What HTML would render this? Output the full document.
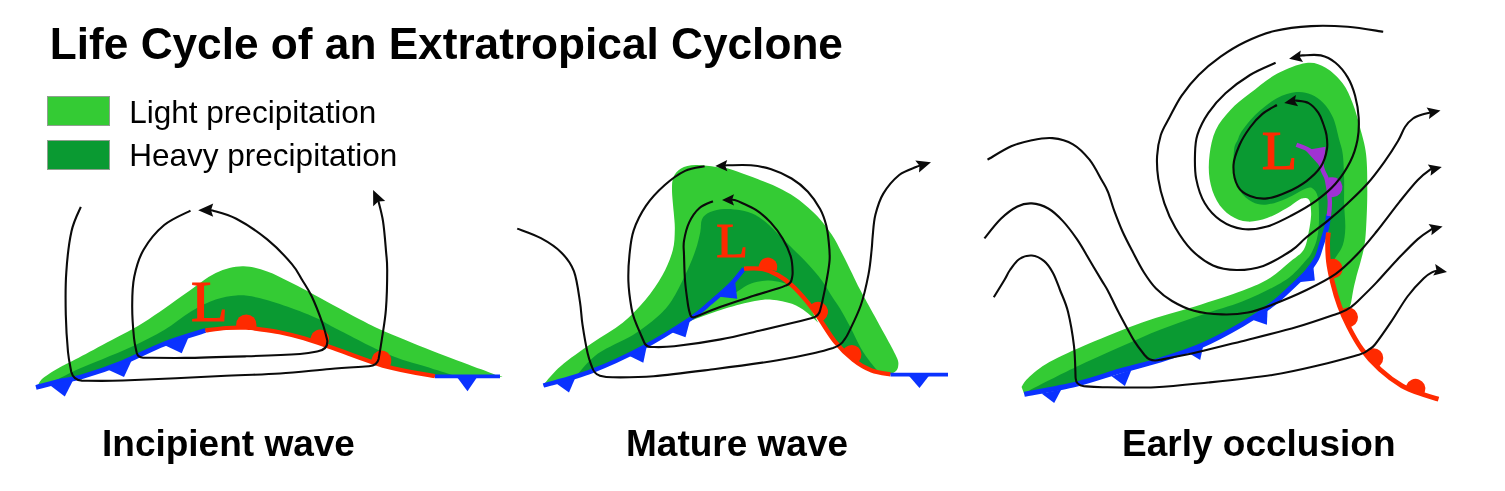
<!DOCTYPE html>
<html><head><meta charset="utf-8"><title>Life Cycle of an Extratropical Cyclone</title>
<style>
html,body{margin:0;padding:0;background:#fff}
body{width:1505px;height:491px;overflow:hidden;position:relative;font-family:"Liberation Sans",sans-serif;color:#000}
h1{position:absolute;left:49.8px;top:18.5px;margin:0;font-size:44.2px;line-height:50px;font-weight:bold;white-space:nowrap;letter-spacing:0}
.leg{position:absolute;left:129.3px;font-size:31.5px;line-height:36px;white-space:nowrap;color:#000}
.box{position:absolute;left:47.4px;width:61px;height:28.6px;border:1px solid #8fa08f}
.lab{position:absolute;top:423px;font-size:37px;line-height:42px;font-weight:bold;white-space:nowrap}
svg{position:absolute;left:0;top:0}
</style></head><body>
<h1>Life Cycle of an Extratropical Cyclone</h1>
<div class="box" style="top:95.6px;background:#34cb34"></div><div class="leg" style="top:93.5px">Light precipitation</div>
<div class="box" style="top:139.6px;background:#0a9a32"></div><div class="leg" style="top:137.3px">Heavy precipitation</div>
<svg width="1505" height="491" viewBox="0 0 1505 491">
<g id="p1">
<path d="M38.0 385.0 C38.6 384.1 39.8 381.3 41.5 379.5 C43.2 377.7 45.4 376.2 48.5 374.2 C51.6 372.1 56.0 369.4 60.0 367.2 C64.0 365.0 65.7 364.5 72.8 360.8 C79.9 357.1 90.6 351.4 102.4 345.0 C114.2 338.6 129.9 331.0 143.6 322.5 C157.3 314.0 172.8 302.2 184.8 294.0 C196.8 285.8 206.1 277.6 215.7 273.0 C225.3 268.4 233.8 266.5 242.4 266.2 C251.0 265.9 259.6 268.9 267.2 271.4 C274.8 273.9 280.9 277.6 287.8 281.0 C294.7 284.4 300.9 287.5 308.4 291.5 C315.9 295.5 324.4 300.3 333.0 305.0 C341.6 309.7 351.2 315.0 360.0 319.5 C368.8 324.0 372.8 326.4 385.9 332.0 C399.0 337.6 423.0 347.2 438.9 353.4 C454.8 359.6 471.3 365.5 481.2 369.3 C491.1 373.1 495.2 374.9 498.0 376.0 C498.0 376.2 508.5 376.9 498.0 377.0 C487.5 377.1 453.6 378.3 434.9 376.5 C416.2 374.7 402.9 371.1 385.9 366.4 C368.9 361.6 346.7 352.7 333.0 348.0 C319.3 343.3 312.8 340.9 303.9 338.3 C295.0 335.7 287.5 333.8 279.4 332.2 C271.2 330.6 260.6 329.4 255.0 328.6 C249.4 327.8 250.8 327.7 246.0 327.6 C241.2 327.5 232.8 327.5 226.0 328.0 C219.2 328.5 215.7 327.9 205.4 330.5 C195.1 333.1 177.9 338.6 164.2 343.9 C150.5 349.2 136.7 356.9 123.0 362.4 C109.3 367.9 92.1 373.7 81.8 376.8 C71.5 379.9 68.5 379.4 61.2 380.9 C53.9 382.4 41.9 385.1 38.0 386.0 C38.0 385.7 38.0 384.3 38.0 384.0 Z" fill="#34cb34"/>
<path d="M50.0 383.5 C54.3 381.3 66.9 374.4 75.6 370.3 C84.3 366.2 92.8 363.2 102.4 359.2 C112.0 355.1 123.0 350.9 133.3 346.0 C143.6 341.1 154.6 335.8 164.2 330.0 C173.8 324.2 182.4 316.6 191.0 311.5 C199.6 306.4 208.1 302.3 215.7 299.6 C223.2 296.9 229.4 295.8 236.3 295.4 C243.2 295.0 248.3 295.6 256.9 297.5 C265.5 299.4 277.5 303.2 287.8 306.8 C298.1 310.4 311.2 315.7 318.7 319.1 C326.2 322.5 321.8 321.3 333.0 327.0 C344.2 332.7 370.5 346.8 385.9 353.4 C401.3 360.0 414.6 363.0 425.6 366.6 C436.6 370.2 447.6 373.6 452.0 375.0 C452.0 375.2 454.9 376.2 452.0 376.5 C449.1 376.8 445.9 378.2 434.9 376.5 C423.9 374.8 402.9 371.1 385.9 366.4 C368.9 361.6 346.7 352.7 333.0 348.0 C319.3 343.3 312.8 340.9 303.9 338.3 C295.0 335.7 287.5 333.8 279.4 332.2 C271.2 330.6 260.6 329.4 255.0 328.6 C249.4 327.8 250.8 327.7 246.0 327.6 C241.2 327.5 232.8 327.5 226.0 328.0 C219.2 328.5 215.7 327.9 205.4 330.5 C195.1 333.1 177.9 338.6 164.2 343.9 C150.5 349.2 136.7 356.9 123.0 362.4 C109.3 367.9 94.0 373.3 81.8 376.8 C69.6 380.3 55.3 382.4 50.0 383.5 Z" fill="#0a9a32"/>
<path d="M36.0 387.5 C40.2 386.4 53.6 382.7 61.2 380.9 C68.8 379.1 71.5 379.9 81.8 376.8 C92.1 373.7 109.3 367.9 123.0 362.4 C136.7 356.9 150.5 349.2 164.2 343.9 C177.9 338.6 198.5 332.7 205.4 330.5 " fill="none" stroke="#0a32ff" stroke-width="4.8" stroke-linecap="butt" stroke-linejoin="round" />
<path d="M205.4 330.5 C208.8 330.1 219.2 328.5 226.0 328.0 C232.8 327.5 241.2 327.5 246.0 327.6 C250.8 327.7 249.4 327.8 255.0 328.6 C260.6 329.4 271.2 330.6 279.4 332.2 C287.5 333.8 295.0 335.7 303.9 338.3 C312.8 340.9 319.3 343.3 333.0 348.0 C346.7 352.7 368.9 361.7 385.9 366.4 C402.9 371.1 426.7 374.6 434.9 376.2 " fill="none" stroke="#ff2a00" stroke-width="4.2" stroke-linecap="butt" stroke-linejoin="round" />
<path d="M434.9 376.4 C445.8 376.4 489.1 376.4 500.0 376.4 " fill="none" stroke="#0a32ff" stroke-width="3.8" stroke-linecap="butt" stroke-linejoin="round" />
<path d="M49.0 384.5 L74.0 378.5 L64.8 396.5Z" fill="#0a32ff"/>
<path d="M106.5 369.0 L132.3 359.0 L124.0 377.0Z" fill="#0a32ff"/>
<path d="M164.2 345.0 L188.9 336.5 L181.7 353.3Z" fill="#0a32ff"/>
<path d="M456.9 377.0 L477.2 377.0 L467.5 391.3Z" fill="#0a32ff"/>
<path d="M256.4 327.5 L256.4 324.5 A10.1 10.1 0 0 0 236.2 324.5 L236.2 327.5Z" fill="#ff2a00"/>
<path d="M327.2 346.0 L328.7 341.7 A9.2 9.2 0 0 0 311.3 335.7 L309.8 340.0Z" fill="#ff2a00"/>
<path d="M389.7 367.4 L391.1 363.0 A9.9 9.9 0 0 0 372.3 356.9 L370.9 361.2Z" fill="#ff2a00"/>
<text transform="translate(191,321) scale(1.05,1)" x="0" y="0" font-family="'Liberation Serif',serif" font-size="57.5" fill="#ff2a00" stroke="#ff2a00" stroke-width="1.1">L</text>
<path d="M80.8 206.9 C79.2 210.9 73.9 220.3 71.5 231.2 C69.1 242.1 67.2 258.4 66.3 272.4 C65.3 286.4 65.5 301.7 65.8 315.0 C66.1 328.3 67.1 342.5 68.0 352.0 C68.9 361.5 70.8 368.7 71.3 372.0 Q73.5 380.2 82.0 380.6 C88.8 380.6 99.0 381.3 123.0 380.5 C147.0 379.7 199.8 377.0 226.0 375.8 C252.2 374.6 262.7 374.6 280.0 373.5 C297.3 372.4 315.2 370.2 330.0 369.0 C344.8 367.8 362.5 366.8 369.0 366.3 Q377.3 365.5 378.6 359.0 C379.2 355.6 380.7 347.0 381.9 338.8 C383.1 330.6 385.0 321.2 385.9 309.7 C386.8 298.2 387.2 279.6 387.2 270.0 C387.2 260.4 386.8 260.2 386.1 252.1 C385.4 244.0 384.4 230.0 383.0 221.2 C381.6 212.4 378.8 203.1 378.0 199.5 " fill="none" stroke="#0b0b0b" stroke-width="2.1" stroke-linecap="butt" stroke-linejoin="round" />
<path d="M373.1 189.9 L385.2 200.9 L378.3 201.6 L373.2 206.3Z" fill="#0b0b0b"/>
<path d="M190.5 210.6 C186.1 213.0 172.0 218.5 164.2 225.0 C156.4 231.5 148.6 241.1 143.6 249.7 C138.6 258.3 136.2 267.3 134.3 276.5 C132.4 285.7 132.2 294.8 132.2 305.0 C132.1 315.2 133.2 330.0 134.0 338.0 C134.8 346.0 136.3 350.5 136.8 353.0 Q138.0 357.5 143.0 357.7 C150.0 357.7 167.5 358.1 184.8 357.9 C202.1 357.7 227.4 356.9 246.6 356.3 C265.8 355.7 288.1 354.8 300.0 354.0 C311.9 353.2 315.0 351.8 318.0 351.3 Q328.0 349.5 327.3 340.5 C326.5 337.6 325.0 330.3 322.4 323.0 C319.8 315.7 315.2 303.7 311.8 296.5 C308.4 289.3 305.5 285.4 302.2 280.0 C298.9 274.6 297.7 270.9 291.9 264.1 C286.1 257.3 276.5 247.0 267.2 239.4 C257.9 231.8 245.4 223.6 236.3 218.8 C227.2 214.0 217.3 212.0 212.6 210.6 C207.9 209.2 208.8 210.4 208.0 210.3 " fill="none" stroke="#0b0b0b" stroke-width="2.1" stroke-linecap="butt" stroke-linejoin="round" />
<path d="M198.2 210.2 L213.2 203.6 L211.0 210.2 L213.2 216.8Z" fill="#0b0b0b"/>
</g>
<g id="p2">
<path d="M544.0 384.0 C546.8 381.0 552.9 372.7 560.9 365.9 C568.9 359.1 581.5 350.5 591.8 343.3 C602.1 336.1 613.8 329.9 622.7 322.7 C631.6 315.5 638.7 307.9 645.3 300.0 C651.9 292.1 657.8 283.5 662.4 275.3 C667.0 267.1 670.6 258.1 672.7 250.6 C674.8 243.0 674.6 236.4 674.8 230.0 C675.0 223.6 674.2 218.8 673.7 212.1 C673.2 205.4 672.0 195.8 672.0 190.0 C672.0 184.2 672.0 180.6 673.5 177.0 C675.0 173.4 677.4 170.5 681.0 168.5 C684.6 166.5 689.6 165.3 695.4 165.1 C701.2 164.8 710.1 166.3 716.0 167.0 C721.9 167.7 723.0 167.1 730.5 169.3 C738.0 171.6 752.5 177.1 761.1 180.5 C769.7 183.9 775.7 186.2 782.0 189.5 C788.3 192.8 793.2 195.5 799.1 200.0 C805.0 204.5 812.0 210.5 817.4 216.3 C822.8 222.1 827.6 228.5 831.7 234.6 C835.8 240.7 838.5 246.6 841.9 253.0 C845.3 259.4 849.0 267.2 852.0 273.3 C855.0 279.4 857.2 284.3 860.0 289.6 C862.8 294.9 864.0 296.9 868.5 305.0 C873.0 313.1 882.1 329.7 886.9 338.5 C891.6 347.3 895.1 353.4 897.0 358.0 C898.9 362.6 898.4 363.8 898.2 366.0 C898.0 368.2 897.3 369.6 896.0 371.0 C894.7 372.4 891.4 373.9 890.5 374.5 C887.4 373.9 877.8 373.0 871.6 370.6 C865.4 368.2 859.4 364.7 853.3 359.9 C847.2 355.1 840.8 348.8 835.0 341.6 C829.2 334.5 823.2 323.8 818.4 317.0 C813.6 310.2 810.6 306.0 806.2 300.7 C801.8 295.4 796.8 289.7 792.0 285.4 C787.2 281.1 782.8 277.8 777.7 275.0 C772.6 272.2 767.0 269.9 761.4 268.8 C755.8 267.7 746.9 268.6 744.0 268.6 C741.8 271.2 736.5 278.7 730.9 284.4 C725.3 290.1 717.3 296.9 710.5 302.7 C703.7 308.5 701.4 311.6 690.2 319.0 C679.0 326.4 659.7 338.7 643.3 347.4 C626.9 356.1 608.4 364.8 591.8 371.1 C575.1 377.5 551.5 383.1 543.4 385.5 Z" fill="#34cb34"/>
<path d="M691.2 320.5 C696.1 318.7 710.7 313.0 720.7 309.9 C730.7 306.8 742.7 303.4 751.2 301.7 C759.7 300.0 764.8 299.3 771.6 299.7 C778.4 300.1 786.2 301.8 792.0 303.8 C797.8 305.8 801.9 308.8 806.2 311.9 C810.5 315.0 816.0 320.7 818.0 322.5 C816.0 318.9 810.5 306.9 806.2 300.7 C801.9 294.5 796.8 289.7 792.0 285.4 C787.2 281.1 782.8 277.8 777.7 275.0 C772.6 272.2 767.0 269.9 761.4 268.8 C755.8 267.7 746.9 268.6 744.0 268.6 C741.8 271.2 736.5 278.7 730.9 284.4 C725.3 290.1 717.3 296.9 710.5 302.7 C703.7 308.5 693.4 316.0 690.2 319.0 C687.0 322.0 691.0 320.2 691.2 320.5 Z" fill="#34cb34"/>
<path d="M577.0 375.0 C580.5 371.4 588.7 360.3 598.0 353.6 C607.3 346.9 623.0 341.2 633.0 335.0 C643.0 328.8 651.2 322.3 657.7 316.5 C664.2 310.7 667.5 306.9 672.1 300.0 C676.7 293.1 681.2 283.5 685.1 275.3 C689.0 267.1 692.9 257.8 695.4 250.6 C697.9 243.4 699.2 237.2 700.3 232.0 C701.4 226.8 700.4 222.5 702.0 219.2 C703.6 215.9 706.5 213.8 710.2 212.1 C713.9 210.4 719.3 209.3 724.4 209.0 C729.5 208.7 735.6 209.3 740.7 210.3 C745.8 211.3 750.4 212.5 755.0 214.8 C759.6 217.2 764.2 220.8 768.5 224.4 C772.8 228.1 776.7 232.6 780.8 236.7 C784.9 240.8 788.6 244.5 793.0 248.9 C797.4 253.3 802.5 258.0 807.2 263.2 C812.0 268.4 817.4 274.4 821.5 280.0 C825.6 285.6 828.9 291.8 832.0 296.5 C835.1 301.2 837.0 303.5 840.0 308.5 C843.0 313.5 846.3 319.4 850.0 326.5 C853.7 333.6 858.3 343.9 862.4 350.8 C866.5 357.7 871.8 363.9 874.7 367.6 C877.6 371.3 879.1 372.1 880.0 373.0 C875.5 370.8 860.8 365.1 853.3 359.9 C845.8 354.7 840.8 348.8 835.0 341.6 C829.2 334.5 823.2 323.8 818.4 317.0 C813.6 310.2 810.6 306.0 806.2 300.7 C801.8 295.4 796.8 289.7 792.0 285.4 C787.2 281.1 782.8 277.8 777.7 275.0 C772.6 272.2 767.0 269.9 761.4 268.8 C755.8 267.7 746.9 268.6 744.0 268.6 C741.8 271.2 736.5 278.7 730.9 284.4 C725.3 290.1 717.3 296.9 710.5 302.7 C703.7 308.5 701.4 311.6 690.2 319.0 C679.0 326.4 659.7 338.7 643.3 347.4 C626.9 356.1 602.8 366.5 591.8 371.1 C580.8 375.7 579.5 374.4 577.0 375.0 Z" fill="#0a9a32"/>
<path d="M744.0 268.6 C746.9 268.6 755.8 267.7 761.4 268.8 C767.0 269.9 772.5 272.1 777.7 275.0 C782.9 277.9 790.0 284.2 792.5 286.0 C790.7 285.4 786.0 283.3 781.8 282.4 C777.6 281.5 772.6 280.2 767.5 280.4 C762.4 280.6 756.1 281.6 751.2 283.4 C746.3 285.2 741.7 288.6 738.0 291.0 C734.3 293.4 730.5 296.8 729.0 298.0 C729.3 295.7 728.4 289.3 730.9 284.4 C733.4 279.5 741.8 271.2 744.0 268.6 Z" fill="#0a9a32"/>
<path d="M543.4 385.5 C551.5 383.1 575.1 377.5 591.8 371.1 C608.4 364.8 626.9 356.1 643.3 347.4 C659.7 338.7 679.0 326.4 690.2 319.0 C701.4 311.6 703.7 308.5 710.5 302.7 C717.3 296.9 725.3 290.1 730.9 284.4 C736.5 278.7 741.8 271.2 744.0 268.6 " fill="none" stroke="#0a32ff" stroke-width="4.4" stroke-linecap="butt" stroke-linejoin="round" />
<path d="M744.0 268.6 C746.9 268.6 755.8 267.7 761.4 268.8 C767.0 269.9 772.6 272.2 777.7 275.0 C782.8 277.8 787.2 281.1 792.0 285.4 C796.8 289.7 801.8 295.4 806.2 300.7 C810.6 306.0 813.6 310.2 818.4 317.0 C823.2 323.8 829.2 334.5 835.0 341.6 C840.8 348.8 847.2 355.1 853.3 359.9 C859.4 364.7 865.4 368.2 871.6 370.6 C877.8 373.0 887.4 373.9 890.5 374.5 " fill="none" stroke="#ff2a00" stroke-width="4.3" stroke-linecap="butt" stroke-linejoin="round" />
<path d="M890.5 374.6 C900.1 374.6 938.4 374.6 948.0 374.6 " fill="none" stroke="#0a32ff" stroke-width="3.8" stroke-linecap="butt" stroke-linejoin="round" />
<path d="M556.0 383.2 L575.0 378.5 L569.0 392.6Z" fill="#0a32ff"/>
<path d="M628.5 355.6 L646.8 346.0 L643.3 362.8Z" fill="#0a32ff"/>
<path d="M671.0 332.0 L690.0 320.3 L685.5 337.3Z" fill="#0a32ff"/>
<path d="M719.5 296.8 L735.2 282.5 L737.2 298.8Z" fill="#0a32ff"/>
<path d="M908.2 375.0 L929.6 375.0 L919.5 388.0Z" fill="#0a32ff"/>
<path d="M776.6 270.9 L777.1 267.9 A9.2 9.2 0 0 0 759.0 264.7 L758.4 267.7Z" fill="#ff2a00"/>
<path d="M822.3 321.1 L823.9 319.9 A10.0 10.0 0 0 0 812.1 303.7 L810.5 304.9Z" fill="#ff2a00"/>
<path d="M857.5 362.5 L859.2 360.7 A9.6 9.6 0 0 0 845.2 347.6 L843.5 349.5Z" fill="#ff2a00"/>
<text transform="translate(716.3,257.3) scale(1.05,1)" x="0" y="0" font-family="'Liberation Serif',serif" font-size="49.5" fill="#ff2a00" stroke="#ff2a00" stroke-width="1.1">L</text>
<path d="M517.2 228.6 C521.2 230.2 533.5 234.2 540.9 238.2 C548.3 242.2 556.0 247.2 561.5 252.7 C567.0 258.2 570.8 263.0 573.9 271.2 C577.0 279.4 578.6 293.2 580.0 302.1 C581.4 311.0 581.2 316.1 582.5 324.7 C583.8 333.3 586.1 346.6 587.7 353.6 C589.3 360.7 591.3 364.8 592.0 367.0 Q594.0 373.6 599.5 375.6 C601.6 375.9 603.4 377.2 612.4 377.3 C621.4 377.4 636.4 377.6 653.6 376.2 C670.8 374.8 694.7 371.6 715.4 369.0 C736.1 366.4 761.6 362.9 777.7 360.3 C793.9 357.7 803.1 355.7 812.3 353.6 C821.5 351.6 829.5 348.9 833.0 348.0 Q841.0 345.5 844.5 339.5 C845.2 338.3 846.0 338.1 848.7 332.4 C851.4 326.6 857.6 314.7 860.9 305.0 C864.2 295.3 866.7 283.6 868.5 274.4 C870.3 265.2 870.9 256.4 871.6 250.0 C872.3 243.6 872.1 241.9 872.7 236.0 C873.3 230.1 873.6 221.9 875.4 214.8 C877.2 207.7 879.3 200.2 883.3 193.6 C887.3 187.0 893.8 179.4 899.2 175.0 C904.7 170.6 912.5 168.6 916.0 167.0 C919.5 165.4 919.3 165.8 920.0 165.6 " fill="none" stroke="#0b0b0b" stroke-width="2.1" stroke-linecap="butt" stroke-linejoin="round" />
<path d="M931.0 162.3 L919.0 172.6 L919.5 165.8 L915.3 160.5Z" fill="#0b0b0b"/>
<path d="M704.6 166.2 C701.4 167.0 691.8 167.7 685.1 170.9 C678.4 174.1 671.0 179.5 664.5 185.3 C658.0 191.1 651.0 198.4 645.9 205.9 C640.8 213.4 636.3 222.5 633.6 230.6 C630.9 238.7 630.4 246.2 629.5 254.7 C628.6 263.2 628.1 272.6 628.4 281.5 C628.7 290.4 630.4 301.8 631.5 308.3 C632.6 314.8 633.4 316.2 635.0 320.6 C636.6 325.1 639.5 331.4 641.0 335.0 C642.5 338.6 643.5 340.8 644.0 342.0 Q645.8 346.7 650.5 347.0 C654.5 346.9 662.5 347.6 674.2 346.3 C685.9 345.0 706.2 342.1 720.7 339.4 C735.2 336.7 749.5 332.9 761.4 330.2 C773.3 327.5 783.6 325.1 792.0 323.1 C800.4 321.1 808.7 318.9 812.0 318.0 Q819.0 316.3 820.2 310.0 C820.6 308.4 821.4 305.6 822.5 300.7 C823.6 295.8 825.4 287.2 826.6 280.4 C827.8 273.6 829.2 266.5 829.6 260.0 C830.0 253.5 829.3 247.4 828.7 241.6 C828.1 235.8 827.6 230.7 826.2 225.3 C824.8 219.9 823.2 214.6 820.1 209.0 C817.0 203.4 812.6 196.8 807.9 191.7 C803.1 186.6 797.7 182.2 791.6 178.5 C785.5 174.8 778.0 171.5 771.2 169.3 C764.4 167.1 758.2 166.0 750.9 165.3 C743.6 164.6 732.0 165.3 727.5 165.3 C723.0 165.3 724.6 165.5 724.0 165.5 " fill="none" stroke="#0b0b0b" stroke-width="2.1" stroke-linecap="butt" stroke-linejoin="round" />
<path d="M715.3 165.9 L727.2 160.1 L725.3 165.7 L727.4 171.3Z" fill="#0b0b0b"/>
<path d="M712.9 201.2 C710.7 202.3 703.5 204.5 699.5 208.0 C695.5 211.5 691.8 216.9 689.2 222.4 C686.6 227.9 684.9 235.5 684.0 240.9 C683.1 246.3 683.8 247.9 684.0 254.7 C684.2 261.5 684.4 272.9 685.1 281.5 C685.8 290.1 687.4 300.7 688.2 306.2 C689.1 311.7 689.9 313.1 690.2 314.5 Q691.2 318.5 695.0 317.0 C699.3 315.3 711.3 310.2 720.7 306.8 C730.1 303.4 741.7 299.7 751.2 296.6 C760.7 293.6 771.8 290.4 777.7 288.5 C783.6 286.6 785.0 285.8 786.5 285.2 Q791.0 283.6 791.8 279.0 C791.9 277.8 792.8 275.7 792.6 272.0 C792.5 268.3 792.5 262.6 790.9 257.0 C789.3 251.4 786.2 244.5 782.8 238.7 C779.4 232.9 775.0 227.2 770.6 222.4 C766.2 217.7 761.1 213.4 756.3 210.2 C751.5 207.0 745.6 204.7 742.0 203.0 C738.4 201.3 736.4 200.6 734.6 200.1 C732.8 199.6 731.6 199.9 731.0 199.8 " fill="none" stroke="#0b0b0b" stroke-width="2.1" stroke-linecap="butt" stroke-linejoin="round" />
<path d="M722.0 199.9 L734.0 194.3 L732.0 199.9 L734.0 205.5Z" fill="#0b0b0b"/>
</g>
<g id="p3">
<path d="M1021.6 387.0 C1022.7 385.5 1023.6 382.1 1028.2 378.0 C1032.8 373.9 1039.2 367.9 1049.4 362.1 C1059.6 356.4 1073.6 350.1 1089.1 343.5 C1104.5 336.9 1124.4 328.6 1142.1 322.4 C1159.8 316.2 1178.2 311.8 1195.0 306.5 C1211.8 301.2 1230.5 295.3 1242.9 290.6 C1255.3 285.9 1261.6 283.1 1269.5 278.3 C1277.4 273.5 1284.4 266.6 1290.1 261.8 C1295.8 257.0 1300.6 254.6 1303.7 249.7 C1306.8 244.8 1307.4 238.3 1308.6 232.6 C1309.8 226.9 1310.8 220.4 1311.1 215.5 C1311.4 210.6 1310.4 205.1 1310.3 203.0 Q1309.0 196.6 1303.0 198.3 C1302.3 198.6 1301.5 198.3 1298.8 200.0 C1296.1 201.7 1291.9 205.2 1286.6 208.2 C1281.3 211.2 1273.6 215.8 1267.1 218.0 C1260.6 220.2 1253.6 222.0 1247.5 221.6 C1241.4 221.2 1235.5 218.9 1230.4 215.5 C1225.3 212.1 1220.5 207.0 1217.0 200.9 C1213.5 194.8 1210.8 186.7 1209.6 178.9 C1208.4 171.2 1208.6 162.6 1209.6 154.4 C1210.6 146.2 1212.3 137.4 1215.8 130.0 C1219.3 122.6 1224.7 116.1 1230.4 110.0 C1236.1 103.9 1242.2 99.3 1250.0 93.3 C1257.8 87.3 1267.5 78.8 1276.9 73.8 C1286.3 68.8 1298.1 64.0 1306.2 63.0 C1314.3 62.0 1319.6 64.3 1325.7 67.7 C1331.8 71.1 1338.3 77.6 1342.8 83.5 C1347.3 89.4 1349.7 95.8 1352.6 103.1 C1355.5 110.4 1357.8 119.0 1360.0 127.5 C1362.2 136.1 1364.9 143.8 1366.1 154.4 C1367.3 165.0 1367.3 178.9 1367.3 191.1 C1367.3 203.3 1366.7 218.0 1366.1 227.8 C1365.5 237.6 1365.3 241.3 1363.6 249.7 C1361.9 258.1 1357.8 271.2 1356.0 278.3 C1354.2 285.4 1353.8 287.6 1352.9 292.0 C1352.0 296.4 1351.6 301.4 1350.5 304.7 C1349.4 307.9 1347.2 310.4 1346.5 311.5 C1345.3 310.6 1341.8 310.9 1339.5 306.0 C1337.2 301.1 1334.3 289.8 1332.5 282.4 C1330.7 275.0 1329.3 268.4 1328.5 261.8 C1327.7 255.2 1327.6 247.9 1327.6 243.0 C1327.6 238.1 1328.3 234.2 1328.4 232.5 C1328.1 231.6 1328.0 224.9 1326.8 227.0 C1325.6 229.1 1322.9 239.9 1321.2 245.2 C1319.5 250.4 1319.0 254.0 1316.6 258.5 C1314.2 263.0 1310.6 267.8 1307.0 272.0 C1303.4 276.2 1300.8 278.5 1295.1 283.8 C1289.4 289.1 1281.5 297.2 1272.7 304.0 C1263.9 310.8 1254.1 317.4 1242.2 324.3 C1230.3 331.2 1215.0 339.6 1201.4 345.5 C1187.8 351.4 1174.3 355.6 1160.7 359.8 C1147.1 364.1 1134.1 366.9 1120.0 371.0 C1105.9 375.1 1091.9 380.3 1075.9 384.2 C1060.0 388.1 1032.9 392.5 1024.3 394.2 Z" fill="#34cb34"/>
<path d="M1030.9 389.5 C1038.4 385.8 1061.1 374.1 1075.9 367.0 C1090.8 359.9 1105.9 353.2 1120.0 347.0 C1134.1 340.8 1147.1 334.8 1160.7 329.5 C1174.3 324.2 1187.8 319.6 1201.4 315.0 C1215.0 310.4 1230.3 306.2 1242.2 301.6 C1254.1 297.0 1264.6 291.8 1272.7 287.5 C1280.8 283.2 1285.4 280.6 1291.0 276.0 C1296.6 271.4 1302.9 263.8 1306.3 260.0 C1309.7 256.2 1309.6 256.4 1311.2 253.4 C1312.8 250.4 1314.9 246.1 1316.1 242.0 C1317.3 237.9 1318.0 233.8 1318.5 228.9 C1319.0 224.0 1319.1 218.0 1319.0 212.6 C1318.9 207.2 1318.7 200.5 1317.7 196.5 C1316.7 192.5 1314.9 190.1 1313.0 188.8 C1311.1 187.5 1310.6 187.0 1306.2 188.6 C1301.8 190.2 1293.1 195.8 1286.6 198.4 C1280.1 201.1 1272.8 203.9 1267.1 204.5 C1261.4 205.1 1256.9 204.3 1252.4 202.1 C1247.9 199.9 1243.2 196.2 1240.2 191.1 C1237.2 186.0 1235.1 178.4 1234.1 171.5 C1233.1 164.6 1233.5 154.8 1234.1 149.5 C1234.7 144.2 1236.4 142.9 1237.8 139.7 C1239.2 136.4 1239.3 134.5 1242.6 130.0 C1245.8 125.5 1251.6 118.2 1257.3 112.9 C1263.0 107.6 1270.4 101.7 1276.9 98.2 C1283.4 94.7 1290.7 92.7 1296.4 92.1 C1302.1 91.5 1306.6 92.7 1311.1 94.5 C1315.6 96.3 1319.6 99.2 1323.3 103.1 C1327.0 107.0 1330.4 111.7 1333.1 117.8 C1335.8 123.9 1337.6 133.6 1339.2 139.7 C1340.8 145.8 1342.0 147.9 1342.8 154.4 C1343.6 160.9 1343.9 170.8 1344.1 178.9 C1344.3 187.1 1343.9 195.2 1344.1 203.3 C1344.3 211.5 1345.5 220.9 1345.3 227.8 C1345.1 234.8 1344.4 240.0 1342.8 245.0 C1341.2 250.0 1337.4 254.6 1335.4 257.7 C1333.4 260.8 1331.7 262.5 1331.0 263.5 C1330.6 263.2 1329.1 265.2 1328.5 261.8 C1327.9 258.4 1327.6 247.9 1327.6 243.0 C1327.6 238.1 1328.3 234.2 1328.4 232.5 C1328.1 231.6 1328.0 224.9 1326.8 227.0 C1325.6 229.1 1322.9 239.9 1321.2 245.2 C1319.5 250.4 1319.0 254.0 1316.6 258.5 C1314.2 263.0 1310.6 267.8 1307.0 272.0 C1303.4 276.2 1300.8 278.5 1295.1 283.8 C1289.4 289.1 1281.5 297.2 1272.7 304.0 C1263.9 310.8 1254.1 317.4 1242.2 324.3 C1230.3 331.2 1215.0 339.6 1201.4 345.5 C1187.8 351.4 1174.3 355.6 1160.7 359.8 C1147.1 364.1 1134.1 366.9 1120.0 371.0 C1105.9 375.1 1091.9 380.3 1075.9 384.2 C1060.0 388.1 1032.9 392.5 1024.3 394.2 Z" fill="#0a9a32"/>
<path d="M1024.3 394.2 C1032.9 392.5 1060.0 388.1 1075.9 384.2 C1091.9 380.3 1105.9 375.1 1120.0 371.0 C1134.1 366.9 1147.1 364.1 1160.7 359.8 C1174.3 355.6 1187.8 351.4 1201.4 345.5 C1215.0 339.6 1230.3 331.2 1242.2 324.3 C1254.1 317.4 1263.9 310.8 1272.7 304.0 C1281.5 297.2 1289.4 289.1 1295.1 283.8 C1300.8 278.5 1303.4 276.2 1307.0 272.0 C1310.6 267.8 1314.2 263.0 1316.6 258.5 C1319.0 254.0 1319.5 250.4 1321.2 245.2 C1322.9 239.9 1325.6 232.2 1326.8 227.0 C1328.0 221.8 1328.3 216.4 1328.6 214.3 " fill="none" stroke="#0a32ff" stroke-width="5.0" stroke-linecap="butt" stroke-linejoin="round" />
<path d="M1328.4 232.5 C1328.3 234.2 1327.6 238.1 1327.6 243.0 C1327.6 247.9 1327.7 255.2 1328.5 261.8 C1329.3 268.4 1330.7 275.0 1332.5 282.4 C1334.3 289.8 1336.8 298.6 1339.5 306.0 C1342.2 313.4 1344.8 319.2 1348.5 326.5 C1352.2 333.8 1356.8 342.3 1362.0 349.5 C1367.2 356.7 1373.3 363.4 1380.0 369.5 C1386.7 375.6 1394.7 381.6 1402.0 385.8 C1409.3 390.0 1417.9 392.6 1424.0 394.8 C1430.1 397.0 1436.1 398.5 1438.5 399.2 " fill="none" stroke="#ff2a00" stroke-width="4.8" stroke-linecap="butt" stroke-linejoin="round" />
<path d="M1296.4 144.7 C1298.4 145.5 1305.0 147.6 1308.6 149.8 C1312.2 152.0 1315.5 154.4 1318.0 158.0 C1320.5 161.6 1321.8 167.8 1323.3 171.5 C1324.8 175.2 1325.9 175.1 1327.0 180.0 C1328.1 184.9 1329.5 194.9 1329.8 200.9 C1330.1 206.9 1329.0 213.5 1328.8 216.0 " fill="none" stroke="#a032d2" stroke-width="4.4" stroke-linecap="butt" stroke-linejoin="round" />
<path d="M1305.5 150.2 L1325.5 146.8 L1323.5 170.0Z" fill="#a032d2"/>
<path d="M1330.1 197.2 L1333.5 196.9 A9.8 9.8 0 0 0 1331.8 177.3 L1328.3 177.6Z" fill="#a032d2"/>
<path d="M1041.5 393.5 L1061.3 389.5 L1054.2 403.1Z" fill="#0a32ff"/>
<path d="M1111.6 376.3 L1131.5 369.8 L1124.9 385.9Z" fill="#0a32ff"/>
<path d="M1187.0 352.0 L1203.5 344.5 L1200.2 360.0Z" fill="#0a32ff"/>
<path d="M1250.2 319.0 L1267.6 309.0 L1266.9 324.7Z" fill="#0a32ff"/>
<path d="M1313.0 263.0 L1296.0 282.5 L1314.8 280.5Z" fill="#0a32ff"/>
<path d="M1330.2 278.8 L1333.6 278.5 A9.8 9.8 0 0 0 1331.9 258.9 L1328.4 259.2Z" fill="#ff2a00"/>
<path d="M1349.1 327.7 L1352.3 326.2 A9.8 9.8 0 0 0 1344.0 308.4 L1340.9 309.9Z" fill="#ff2a00"/>
<path d="M1377.9 367.4 L1380.4 365.0 A9.8 9.8 0 0 0 1366.5 351.1 L1364.1 353.6Z" fill="#ff2a00"/>
<path d="M1423.7 394.9 L1424.9 391.6 A9.8 9.8 0 0 0 1406.5 384.9 L1405.3 388.1Z" fill="#ff2a00"/>
<text transform="translate(1261.8,169.3) scale(1.05,1)" x="0" y="0" font-family="'Liberation Serif',serif" font-size="55.3" fill="#ff2a00" stroke="#ff2a00" stroke-width="1.1">L</text>
<path d="M1383.2 31.7 C1377.3 30.9 1359.7 27.7 1347.7 26.8 C1335.7 25.9 1323.3 25.4 1311.1 26.1 C1298.9 26.8 1285.4 28.4 1274.4 31.0 C1263.4 33.6 1254.1 37.7 1245.1 42.0 C1236.1 46.3 1228.3 51.2 1220.6 56.7 C1212.9 62.2 1205.2 68.5 1198.7 75.0 C1192.2 81.5 1186.4 88.7 1181.5 95.8 C1176.6 102.9 1172.8 111.3 1169.3 117.8 C1165.8 124.3 1162.8 128.6 1160.8 135.0 C1158.8 141.4 1157.5 148.7 1157.1 156.0 C1156.7 163.3 1157.1 171.0 1158.3 178.9 C1159.5 186.8 1161.6 195.2 1164.4 203.3 C1167.2 211.5 1170.9 220.1 1175.4 227.8 C1179.9 235.5 1185.0 243.4 1191.3 249.7 C1197.6 256.0 1205.5 262.1 1213.0 265.5 C1220.5 268.9 1228.1 269.9 1236.5 270.0 C1244.9 270.1 1254.1 269.1 1263.3 265.9 C1272.5 262.6 1284.3 255.2 1291.5 250.5 C1298.7 245.8 1300.1 242.5 1306.2 237.5 C1312.3 232.5 1321.3 226.1 1328.2 220.4 C1335.1 214.7 1341.2 209.4 1347.7 203.3 C1354.2 197.2 1361.2 190.7 1367.3 183.8 C1373.4 176.9 1379.3 168.9 1384.4 161.8 C1389.5 154.7 1394.6 146.8 1398.0 141.0 C1401.4 135.2 1402.5 130.8 1405.0 127.0 C1407.5 123.2 1409.8 120.7 1413.0 118.5 C1416.2 116.3 1420.7 115.1 1424.0 114.0 C1427.3 112.9 1431.5 112.3 1433.0 112.0 " fill="none" stroke="#0b0b0b" stroke-width="2.1" stroke-linecap="butt" stroke-linejoin="round" />
<path d="M1440.5 110.5 L1429.0 118.9 L1429.9 112.7 L1426.6 107.5Z" fill="#0b0b0b"/>
<path d="M1275.6 62.8 C1271.3 64.8 1258.3 69.9 1250.0 75.0 C1241.7 80.1 1232.4 87.0 1225.5 93.3 C1218.6 99.6 1213.1 106.0 1208.4 112.9 C1203.7 119.8 1199.6 128.0 1197.4 134.9 C1195.2 141.8 1195.2 147.1 1195.0 154.4 C1194.8 161.7 1194.6 170.8 1196.2 178.9 C1197.8 187.1 1200.7 196.4 1204.8 203.3 C1208.9 210.2 1214.3 216.1 1220.6 220.4 C1226.9 224.7 1234.8 228.0 1242.6 229.0 C1250.3 230.0 1258.9 228.8 1267.1 226.5 C1275.2 224.2 1283.3 219.8 1291.5 215.5 C1299.7 211.2 1308.7 206.2 1316.0 200.9 C1323.3 195.6 1329.8 190.3 1335.5 183.8 C1341.2 177.3 1346.5 169.1 1350.2 161.8 C1353.9 154.5 1356.1 147.1 1357.5 139.8 C1358.9 132.5 1359.1 125.1 1358.7 117.8 C1358.3 110.5 1356.9 102.5 1355.1 95.8 C1353.3 89.1 1351.0 82.9 1347.7 77.4 C1344.4 71.9 1340.0 66.5 1335.5 62.8 C1331.0 59.1 1326.3 56.6 1320.8 55.4 C1315.3 54.2 1306.3 55.3 1302.5 55.4 C1298.7 55.5 1298.8 56.1 1298.0 56.2 " fill="none" stroke="#0b0b0b" stroke-width="2.1" stroke-linecap="butt" stroke-linejoin="round" />
<path d="M1289.1 58.7 L1300.8 50.5 L1299.7 56.6 L1303.0 61.9Z" fill="#0b0b0b"/>
<path d="M1276.9 105.0 C1274.5 106.5 1266.7 110.3 1262.2 114.1 C1257.7 117.8 1253.8 122.3 1250.0 127.5 C1246.2 132.7 1242.2 138.8 1239.5 145.0 C1236.8 151.2 1233.8 158.1 1233.5 165.0 C1233.2 171.9 1235.0 181.0 1237.8 186.2 C1240.5 191.4 1245.1 194.0 1250.0 196.0 C1254.9 198.0 1261.0 199.0 1267.1 198.4 C1273.2 197.8 1280.1 195.2 1286.6 192.3 C1293.1 189.5 1300.5 185.6 1306.2 181.3 C1311.9 177.0 1317.3 172.0 1320.8 166.7 C1324.2 161.4 1326.0 154.8 1326.9 149.5 C1327.9 144.2 1327.1 139.2 1326.5 135.0 C1325.9 130.8 1324.6 127.7 1323.3 124.0 C1322.0 120.3 1320.9 116.4 1318.4 112.9 C1316.0 109.4 1312.3 105.1 1308.6 103.1 C1304.9 101.0 1299.0 101.0 1296.4 100.6 C1293.8 100.2 1293.6 100.9 1293.0 100.9 " fill="none" stroke="#0b0b0b" stroke-width="2.1" stroke-linecap="butt" stroke-linejoin="round" />
<path d="M1284.2 103.1 L1295.9 94.9 L1294.8 101.0 L1298.1 106.3Z" fill="#0b0b0b"/>
<path d="M987.5 159.7 C991.5 157.5 1003.8 149.6 1011.2 146.3 C1018.6 143.1 1024.9 141.6 1031.8 140.2 C1038.7 138.8 1045.5 137.4 1052.4 138.1 C1059.3 138.8 1066.8 140.7 1073.0 144.3 C1079.2 147.9 1084.7 153.7 1089.5 159.7 C1094.3 165.7 1098.7 174.9 1101.8 180.3 C1104.9 185.7 1105.9 186.9 1108.0 192.0 C1110.1 197.1 1111.8 204.1 1114.2 210.6 C1116.6 217.1 1119.3 224.3 1122.4 231.2 C1125.5 238.1 1129.1 244.9 1132.7 251.8 C1136.3 258.7 1140.1 266.4 1144.0 272.5 C1147.9 278.6 1151.3 283.8 1156.0 288.5 C1160.7 293.2 1165.7 297.3 1172.0 301.0 C1178.3 304.7 1185.7 308.6 1194.0 310.8 C1202.3 313.0 1213.0 314.1 1222.0 314.4 C1231.0 314.7 1239.6 314.1 1248.0 312.5 C1256.4 310.9 1262.5 308.4 1272.2 304.7 C1282.0 300.9 1296.0 295.1 1306.5 290.0 C1317.0 284.9 1327.2 279.8 1335.4 274.1 C1343.7 268.4 1349.1 262.7 1356.0 255.6 C1362.9 248.5 1369.3 240.5 1376.6 231.5 C1383.8 222.5 1392.6 210.4 1399.5 201.8 C1406.4 193.2 1412.7 185.3 1417.8 180.0 C1422.9 174.7 1427.4 171.6 1430.1 169.7 C1432.8 167.8 1433.3 168.7 1434.0 168.5 " fill="none" stroke="#0b0b0b" stroke-width="2.1" stroke-linecap="butt" stroke-linejoin="round" />
<path d="M1441.8 167.0 L1430.6 175.8 L1431.3 169.6 L1427.8 164.5Z" fill="#0b0b0b"/>
<path d="M984.4 238.4 C987.1 235.1 995.4 224.1 1000.9 218.8 C1006.4 213.5 1012.2 209.1 1017.4 206.5 C1022.5 203.9 1026.6 203.1 1031.8 203.4 C1037.0 203.7 1043.1 205.6 1048.3 208.5 C1053.5 211.4 1057.9 215.8 1062.7 220.9 C1067.5 226.1 1072.6 232.9 1077.1 239.4 C1081.6 245.9 1085.4 253.1 1089.5 260.0 C1093.6 266.9 1098.7 275.5 1101.8 280.6 C1104.9 285.8 1105.2 285.7 1108.0 290.9 C1110.8 296.1 1113.9 303.5 1118.3 311.8 C1122.7 320.1 1129.8 333.6 1134.2 340.9 C1138.7 348.2 1143.2 353.1 1145.0 355.5 Q1150.5 362.5 1160.0 359.8 C1166.2 358.6 1183.5 355.4 1197.0 352.3 C1210.5 349.2 1224.4 345.6 1241.0 341.4 C1257.6 337.2 1280.2 331.8 1296.7 327.0 C1313.2 322.2 1332.8 315.1 1340.0 312.7 Q1346.0 310.8 1351.0 307.0 C1352.2 306.0 1353.7 305.0 1358.0 300.9 C1362.3 296.8 1370.1 289.3 1376.6 282.4 C1383.1 275.5 1390.3 266.9 1397.2 259.7 C1404.1 252.5 1412.0 244.2 1417.8 239.1 C1423.6 233.9 1429.3 230.7 1432.2 228.8 C1435.1 226.9 1434.5 228.0 1435.0 227.8 " fill="none" stroke="#0b0b0b" stroke-width="2.1" stroke-linecap="butt" stroke-linejoin="round" />
<path d="M1442.6 226.5 L1431.4 235.3 L1432.1 229.1 L1428.6 224.0Z" fill="#0b0b0b"/>
<path d="M993.8 297.2 C995.6 294.3 1001.7 284.5 1004.4 280.0 C1007.1 275.5 1007.5 273.5 1010.0 270.0 C1012.5 266.5 1015.8 261.4 1019.4 259.0 C1023.0 256.6 1027.7 255.2 1031.8 255.5 C1035.9 255.8 1040.7 258.2 1044.2 261.1 C1047.7 264.0 1050.4 268.2 1053.0 273.0 C1055.6 277.8 1057.5 283.5 1060.0 290.0 C1062.5 296.5 1065.7 302.4 1068.0 311.8 C1070.3 321.2 1072.7 335.2 1074.0 346.2 C1075.3 357.2 1075.3 372.7 1075.6 378.0 Q1076.0 385.5 1084.0 386.2 C1087.1 386.4 1090.5 387.0 1102.4 387.2 C1114.3 387.4 1137.7 388.0 1155.3 387.2 C1172.9 386.4 1188.8 384.5 1208.3 382.5 C1227.8 380.5 1253.4 377.9 1272.2 375.0 C1291.0 372.1 1306.6 368.2 1321.1 364.8 C1335.6 361.4 1352.7 356.5 1359.0 354.8 Q1365.2 353.0 1369.0 349.5 C1370.0 348.7 1371.3 349.1 1375.0 344.5 C1378.7 339.9 1385.8 329.7 1391.2 321.7 C1396.6 313.7 1402.1 303.8 1407.5 296.5 C1412.9 289.2 1419.5 282.3 1423.8 278.2 C1428.0 274.1 1430.6 273.1 1433.0 271.8 C1435.4 270.5 1437.2 270.8 1438.0 270.6 " fill="none" stroke="#0b0b0b" stroke-width="2.1" stroke-linecap="butt" stroke-linejoin="round" />
<path d="M1447.0 272.0 L1433.2 275.5 L1436.4 270.1 L1435.2 264.0Z" fill="#0b0b0b"/>
</g>
</svg>
<div class="lab" style="left:102px">Incipient wave</div>
<div class="lab" style="left:626px">Mature wave</div>
<div class="lab" style="left:1122px">Early occlusion</div>
</body></html>
